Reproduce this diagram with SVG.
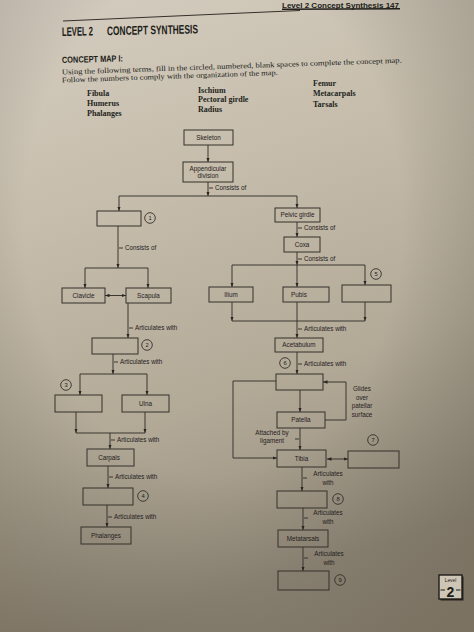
<svg xmlns="http://www.w3.org/2000/svg" width="474" height="632" viewBox="0 0 474 632">
<defs>
<linearGradient id="paper" x1="0" y1="0" x2="0.25" y2="1">
<stop offset="0" stop-color="#d5cdc0"/>
<stop offset="0.35" stop-color="#c6bdac"/>
<stop offset="0.7" stop-color="#b2a997"/>
<stop offset="1" stop-color="#978e7e"/>
</linearGradient>
<radialGradient id="vig" cx="0.45" cy="0.35" r="0.8">
<stop offset="0.5" stop-color="#000" stop-opacity="0"/>
<stop offset="1" stop-color="#3a3020" stop-opacity="0.3"/>
</radialGradient>
<marker id="ah" viewBox="0 0 8 6" refX="8" refY="3" markerWidth="4.5" markerHeight="3.6" markerUnits="userSpaceOnUse" orient="auto-start-reverse">
<path d="M0,0 L8,3 L0,6 z" fill="#2a2520"/>
</marker>
<style>
.box{fill:none;stroke:#35302b;stroke-width:1}
.ln{fill:none;stroke:#35302b;stroke-width:0.95}
.arr{marker-end:url(#ah)}
.dbl{marker-start:url(#ah);marker-end:url(#ah)}
.lbl{font-family:"Liberation Sans",Arial,sans-serif;font-size:6.3px;fill:#25211d}
.mid{text-anchor:middle}
.num{fill:none;stroke:#35302b;stroke-width:0.9}
.numt{font-family:"Liberation Sans",Arial,sans-serif;font-size:5.8px;fill:#25211d;text-anchor:middle}
.serif{font-family:"Liberation Serif","Times New Roman",serif;fill:#231f1b}
.head{font-family:"Liberation Sans",Arial,sans-serif;font-weight:bold;fill:#201c18}
</style>
</defs>
<rect x="0" y="0" width="474" height="632" fill="url(#paper)"/>
<rect x="0" y="0" width="474" height="632" fill="url(#vig)"/>

<g id="page-header">
<text class="head" x="282" y="8" font-size="7" textLength="117" lengthAdjust="spacingAndGlyphs">Level 2   Concept Synthesis   147</text>
<line x1="282" y1="9.3" x2="400" y2="8.8" stroke="#201c18" stroke-width="1.4"/>
<line x1="63" y1="21" x2="300" y2="10.5" stroke="#35302b" stroke-width="1"/>
<text class="head" x="62" y="36" font-size="12.5" textLength="31" lengthAdjust="spacingAndGlyphs" transform="rotate(-1.1 62 36)">LEVEL 2</text>
<text class="head" x="107" y="35.2" font-size="12.5" textLength="91" lengthAdjust="spacingAndGlyphs" transform="rotate(-1.1 107 35.2)">CONCEPT SYNTHESIS</text>
<text class="head" x="62" y="63" font-size="9" textLength="61" lengthAdjust="spacingAndGlyphs" transform="rotate(-1.5 62 63)">CONCEPT MAP I:</text>
<text class="serif" x="62" y="74.5" font-size="7.4" textLength="340" lengthAdjust="spacingAndGlyphs" transform="rotate(-2 62 74.5)">Using the following terms, fill in the circled, numbered, blank spaces to complete the concept map.</text>
<text class="serif" x="62" y="82.5" font-size="7.4" textLength="216" lengthAdjust="spacingAndGlyphs" transform="rotate(-2 62 82.5)">Follow the numbers to comply with the organization of the map.</text>
</g>

<g id="term-list" class="serif" font-size="8" font-weight="bold">
<text x="87" y="96">Fibula</text>
<text x="87" y="105.5">Humerus</text>
<text x="87" y="115.5">Phalanges</text>
<text x="198" y="92.5">Ischium</text>
<text x="198" y="102">Pectoral girdle</text>
<text x="198" y="112">Radius</text>
<text x="313" y="86">Femur</text>
<text x="313" y="96">Metacarpals</text>
<text x="313" y="106.5">Tarsals</text>
</g>

<g id="connectors">
<path class="ln arr" d="M208,145 V162"/>
<path class="ln arr" d="M208,182 V196"/>
<path class="ln" d="M119,196 H297"/>
<path class="ln arr" d="M119,196 V211"/>
<path class="ln arr" d="M297,196 V208"/>
<path class="ln" d="M209,188 h4"/>
<text class="lbl" x="215" y="190">Consists of</text>

<path class="ln arr" d="M297,222 V237"/>
<path class="ln" d="M298,228 h4"/>
<text class="lbl" x="304" y="230">Consists of</text>
<path class="ln arr" d="M297,252 V265"/>
<path class="ln" d="M298,259 h4"/>
<text class="lbl" x="304" y="261">Consists of</text>
<path class="ln" d="M232,265 H365"/>
<path class="ln arr" d="M232,265 V287"/>
<path class="ln arr" d="M297,265 V287"/>
<path class="ln arr" d="M365,265 V285"/>
<path class="ln arr" d="M232,302 V321"/>
<path class="ln arr" d="M365,302 V321"/>
<path class="ln" d="M232,321 H365"/>
<path class="ln arr" d="M297,302 V338"/>
<path class="ln" d="M298,329 h4"/>
<text class="lbl" x="304" y="331">Articulates with</text>
<path class="ln arr" d="M297,352 V374"/>
<path class="ln" d="M298,364 h4"/>
<text class="lbl" x="304" y="366">Articulates with</text>
<path class="ln arr" d="M276,381 H233 V458 H277"/>
<path class="ln arr" d="M300,390 V412"/>
<path class="ln arr" d="M325,420 H346 V382 H323"/>
<text class="lbl mid" x="362" y="391">Glides</text>
<text class="lbl mid" x="362" y="399.5">over</text>
<text class="lbl mid" x="362" y="408">patellar</text>
<text class="lbl mid" x="362" y="416.5">surface</text>
<path class="ln arr" d="M300,428 V450"/>
<path class="ln" d="M295,439 h4"/>
<text class="lbl mid" x="272" y="434.5">Attached by</text>
<text class="lbl mid" x="272" y="443">ligament</text>
<path class="ln dbl" d="M327,459 H348"/>
<path class="ln arr" d="M302,467 V491"/>
<path class="ln" d="M303,478 h4"/>
<text class="lbl mid" x="328" y="475.5">Articulates</text>
<text class="lbl mid" x="328" y="484.5">with</text>
<path class="ln arr" d="M303,508 V530"/>
<path class="ln" d="M304,518 h4"/>
<text class="lbl mid" x="328" y="515">Articulates</text>
<text class="lbl mid" x="328" y="524">with</text>
<path class="ln arr" d="M303,547 V571"/>
<path class="ln" d="M304,558 h4"/>
<text class="lbl mid" x="329" y="555.5">Articulates</text>
<text class="lbl mid" x="329" y="564.5">with</text>

<path class="ln arr" d="M118,226 V268"/>
<path class="ln" d="M119,248 h4"/>
<text class="lbl" x="125" y="250">Consists of</text>
<path class="ln" d="M85,268 H148"/>
<path class="ln arr" d="M85,268 V288"/>
<path class="ln arr" d="M148,268 V288"/>
<path class="ln dbl" d="M105,295.5 H126"/>
<path class="ln arr" d="M128,303 V338"/>
<path class="ln" d="M129,328 h4"/>
<text class="lbl" x="135" y="330">Articulates with</text>
<path class="ln arr" d="M113,354 V374"/>
<path class="ln" d="M114,362 h4"/>
<text class="lbl" x="120" y="364">Articulates with</text>
<path class="ln" d="M80,374 H147"/>
<path class="ln arr" d="M80,374 V395"/>
<path class="ln arr" d="M147,374 V395"/>
<path class="ln arr" d="M76,412 V433"/>
<path class="ln arr" d="M145,412 V433"/>
<path class="ln" d="M76,433 H145"/>
<path class="ln arr" d="M110,433 V449"/>
<path class="ln" d="M111,440 h4"/>
<text class="lbl" x="117" y="442">Articulates with</text>
<path class="ln arr" d="M108,466 V488"/>
<path class="ln" d="M109,477 h4"/>
<text class="lbl" x="115" y="479">Articulates with</text>
<path class="ln arr" d="M107,505 V527"/>
<path class="ln" d="M108,517 h4"/>
<text class="lbl" x="114" y="519">Articulates with</text>
</g>

<g id="skeleton"><rect class="box" x="184" y="130" width="49" height="15"/><text class="lbl mid" x="208.5" y="140">Skeleton</text></g>
<g id="appendicular"><rect class="box" x="183" y="162" width="50" height="20"/><text class="lbl mid" x="208" y="170.5">Appendicular</text><text class="lbl mid" x="208" y="178">division</text></g>

<g id="blank-1"><rect class="box" x="97" y="211" width="44" height="15"/><circle class="num" cx="150" cy="218" r="5.3"/><text class="numt" x="150" y="220">1</text></g>
<g id="pelvic-girdle"><rect class="box" x="275" y="208" width="45" height="14"/><text class="lbl mid" x="297.5" y="217.2">Pelvic girdle</text></g>
<g id="coxa"><rect class="box" x="284" y="237" width="36" height="15"/><text class="lbl mid" x="302" y="246.5">Coxa</text></g>
<g id="ilium"><rect class="box" x="209" y="287" width="44" height="15"/><text class="lbl mid" x="231" y="297">Ilium</text></g>
<g id="pubis"><rect class="box" x="283" y="287" width="46" height="15"/><text class="lbl mid" x="299" y="297">Pubis</text></g>
<g id="blank-5"><rect class="box" x="342" y="285" width="49" height="17"/><circle class="num" cx="376" cy="274" r="5.3"/><text class="numt" x="376" y="276">5</text></g>
<g id="acetabulum"><rect class="box" x="275" y="338" width="48" height="14"/><text class="lbl mid" x="299" y="347.2">Acetabulum</text></g>
<g id="blank-6"><rect class="box" x="276" y="374" width="47" height="16"/><circle class="num" cx="285" cy="363" r="5.3"/><text class="numt" x="285" y="365">6</text></g>
<g id="patella"><rect class="box" x="277" y="412" width="48" height="16"/><text class="lbl mid" x="301" y="422.3">Patella</text></g>
<g id="tibia"><rect class="box" x="277" y="450" width="49" height="17"/><text class="lbl mid" x="301.5" y="461">Tibia</text></g>
<g id="blank-7"><rect class="box" x="348" y="451" width="51" height="17"/><circle class="num" cx="373" cy="440" r="5.3"/><text class="numt" x="373" y="442">7</text></g>
<g id="blank-8"><rect class="box" x="277" y="491" width="50" height="17"/><circle class="num" cx="338" cy="499" r="5.3"/><text class="numt" x="338" y="501">8</text></g>
<g id="metatarsals"><rect class="box" x="278" y="530" width="50" height="17"/><text class="lbl mid" x="303" y="541">Metatarsals</text></g>
<g id="blank-9"><rect class="box" x="278" y="571" width="51" height="19"/><circle class="num" cx="340" cy="580" r="5.3"/><text class="numt" x="340" y="582">9</text></g>

<g id="clavicle"><rect class="box" x="62" y="288" width="43" height="15"/><text class="lbl mid" x="83.5" y="297.8">Clavicle</text></g>
<g id="scapula"><rect class="box" x="126" y="288" width="45" height="15"/><text class="lbl mid" x="148.5" y="297.8">Scapula</text></g>
<g id="blank-2"><rect class="box" x="92" y="338" width="46" height="16"/><circle class="num" cx="147" cy="345" r="5.3"/><text class="numt" x="147" y="347">2</text></g>
<g id="blank-3"><rect class="box" x="55" y="395" width="47" height="17"/><circle class="num" cx="66" cy="385" r="5.3"/><text class="numt" x="66" y="387">3</text></g>
<g id="ulna"><rect class="box" x="122" y="395" width="47" height="17"/><text class="lbl mid" x="145.5" y="406">Ulna</text></g>
<g id="carpals"><rect class="box" x="87" y="449" width="47" height="17"/><text class="lbl mid" x="109" y="460">Carpals</text></g>
<g id="blank-4"><rect class="box" x="83" y="488" width="50" height="17"/><circle class="num" cx="143" cy="496" r="5.3"/><text class="numt" x="143" y="498">4</text></g>
<g id="phalanges"><rect class="box" x="81" y="527" width="50" height="17"/><text class="lbl mid" x="106" y="538">Phalanges</text></g>

<g id="level-badge">
<rect x="440.5" y="576.5" width="23" height="24" fill="#2a2520"/>
<rect x="439" y="575" width="23" height="24" fill="#cdc5b6" stroke="#1f1b17" stroke-width="1.4"/>
<text x="450.5" y="581.5" font-family="Liberation Sans, Arial, sans-serif" font-size="4.8" fill="#1f1b17" text-anchor="middle">Level</text>
<text x="450.5" y="596.5" font-family="Liberation Sans, Arial, sans-serif" font-size="14" font-weight="bold" fill="#1f1b17" text-anchor="middle">2</text>
<line x1="440.5" y1="590" x2="445" y2="590" stroke="#1f1b17" stroke-width="1"/>
<line x1="456" y1="590" x2="460.5" y2="590" stroke="#1f1b17" stroke-width="1"/>
</g>
</svg>
